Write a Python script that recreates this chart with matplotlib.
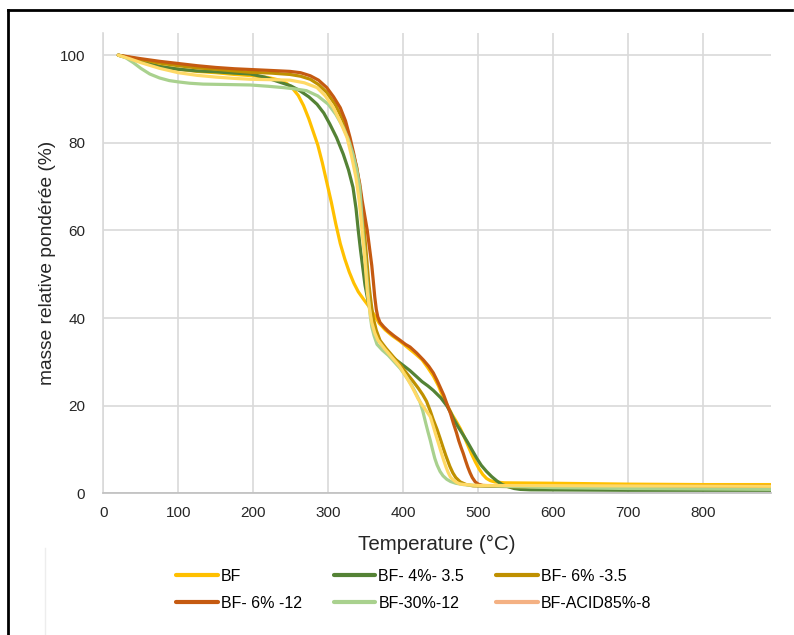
import matplotlib
matplotlib.use("Agg")
import matplotlib.pyplot as plt
from matplotlib.lines import Line2D

plt.rcParams['font.family'] = ['Liberation Sans', 'DejaVu Sans']

# data (temperature in degC, relative mass in %)
bf_t = [20, 35, 50, 75, 100, 125, 150, 175, 200, 220, 235, 245, 253, 260, 267, 274, 280, 286, 292, 298,
        304, 310, 316, 322, 328, 334, 340, 347, 354, 361, 368, 376, 385, 395, 405, 415, 425, 433, 440,
        447, 453, 459, 465, 471, 476, 481, 486, 491, 496, 501, 506, 511, 516, 522, 535, 600, 700, 800, 890]
bf_m = [100, 99.3, 98.5, 97.5, 96.8, 96.3, 96.0, 95.6, 95.3, 94.9, 94.3, 93.5, 92.3, 90.8, 88.5, 85.5, 82.5, 79.5, 75.5, 71.0,
        66.5, 61.5, 57.0, 53.5, 50.5, 48.0, 46.0, 44.3, 42.7, 40.8, 38.8, 37.3, 36.0, 34.8, 33.4, 32.0, 30.5, 28.6, 26.8,
        24.5, 22.0, 20.0, 18.0, 16.3, 14.8, 13.0, 11.0, 9.0, 7.2, 5.6, 4.3, 3.4, 2.9, 2.6, 2.4, 2.3, 2.1, 2.0, 2.0]

g4_t = [20, 35, 50, 75, 100, 125, 150, 175, 196, 215, 236, 250, 262, 274, 285, 294, 302, 311, 320, 327,
        333, 337, 340, 343, 346, 349, 352, 355, 358, 362, 366, 373, 381, 390, 400, 409, 418, 425, 433, 440,
        450, 458, 463, 467, 473, 480, 486, 492, 498, 504, 511, 518, 525, 532, 540, 548, 556, 570, 700, 890]
g4_m = [100, 99.3, 98.5, 97.4, 96.8, 96.4, 96.2, 95.9, 95.7, 95.0, 93.8, 93.0, 91.9, 90.5, 88.8, 86.8, 84.3, 81.2, 77.4, 73.8,
        69.8, 65.0, 60.0, 55.5, 51.5, 47.5, 44.8, 42.5, 40.5, 37.8, 35.7, 33.4, 31.8, 30.5, 29.2, 28.0, 26.6, 25.5, 24.5, 23.5,
        21.8, 20.0, 18.5, 17.0, 15.2, 13.3, 11.6, 9.8, 8.0, 6.4, 5.0, 3.8, 2.8, 2.0, 1.5, 1.1, 0.9, 0.8, 0.7, 0.7]

g6_t = [20, 35, 50, 75, 100, 125, 150, 175, 196, 225, 249, 263, 276, 287, 298, 309, 320, 328, 334, 338,
        341, 344, 346, 348, 350, 352, 354, 356, 358, 360, 364, 369, 377, 385, 395, 405, 413, 420, 426, 431,
        436, 440, 445, 449, 453, 457, 462, 466, 470, 476, 484, 493, 550, 890]
g6_m = [100, 99.5, 99.0, 98.2, 97.6, 97.1, 96.8, 96.4, 96.1, 95.9, 95.6, 95.2, 94.5, 93.3, 91.5, 88.8, 85.0, 80.8, 77.0, 74.4,
        71.0, 67.0, 63.5, 60.0, 56.0, 52.0, 48.0, 45.0, 42.3, 40.0, 37.2, 34.9, 33.1, 31.5, 29.5, 27.3, 25.6, 24.0, 22.5, 21.0,
        18.8, 16.8, 14.6, 12.6, 10.5, 8.5, 6.2, 4.7, 3.6, 2.6, 2.0, 1.7, 1.5, 1.4]

o12_t = [20, 35, 50, 75, 100, 125, 150, 175, 200, 225, 249, 263, 276, 287, 298, 307, 316, 323, 329, 334,
         338, 342, 345, 348, 352, 355, 358, 360, 362, 364, 366, 369, 374, 380, 388, 396, 403, 409, 418, 427,
         434, 440, 445, 449, 454, 458, 463, 467, 471, 474, 477, 480, 483, 486, 489, 492, 496, 500, 506, 520,
         600, 890]
o12_m = [100, 99.6, 99.2, 98.6, 98.1, 97.6, 97.2, 96.9, 96.7, 96.5, 96.3, 96.0, 95.3, 94.3, 92.6, 90.5, 88.0, 85.0, 81.2, 77.5,
         74.0, 70.6, 67.0, 64.0, 60.0, 56.0, 52.0, 48.5, 44.8, 42.0, 40.3, 39.0, 38.0, 37.0, 35.9, 34.9, 34.0, 33.4, 32.0, 30.4,
         29.0, 27.5, 25.8, 24.3, 22.4, 20.5, 18.2, 15.9, 13.8, 12.0, 10.5, 9.1, 7.5, 6.0, 4.7, 3.6, 2.6, 2.1, 1.8, 1.7,
         1.6, 1.6]

g30_t = [20, 30, 40, 50, 62, 75, 88, 100, 115, 133, 165, 196, 220, 240, 256, 271, 286, 300, 310, 320,
         327, 333, 338, 342, 344, 346, 348, 350, 352, 354, 356, 358, 361, 365, 372, 380, 388, 396, 403, 410,
         416, 422, 426, 430, 433, 436, 439, 442, 445, 449, 453, 458, 463, 470, 480, 495, 600, 700, 890]
g30_m = [100, 99.4, 98.3, 97.0, 95.7, 94.8, 94.2, 93.9, 93.6, 93.4, 93.3, 93.2, 92.9, 92.6, 92.3, 91.9, 90.7, 88.8, 86.5, 83.5,
         80.7, 77.4, 73.8, 69.8, 65.0, 60.0, 56.0, 52.0, 48.0, 44.0, 40.5, 38.0, 36.0, 34.0, 32.7, 31.5, 30.0, 28.5, 26.8, 25.0,
         23.1, 21.0, 18.8, 16.0, 14.0, 12.1, 10.0, 8.0, 6.5, 5.0, 4.0, 3.2, 2.7, 2.3, 2.0, 1.8, 1.3, 1.1, 0.9]

acid_t = [20, 35, 50, 75, 100, 125, 150, 175, 196, 225, 249, 268, 285, 296, 307, 316, 325, 331, 337, 341,
          344, 346, 348, 350, 352, 355, 358, 362, 366, 375, 385, 395, 404, 412, 420, 428, 436, 440, 444, 448,
          451, 454, 457, 460, 463, 467, 471, 476, 490, 500, 890]
acid_m = [100, 99.2, 98.3, 97.0, 96.0, 95.4, 95.0, 94.7, 94.5, 94.4, 94.3, 93.7, 92.6, 90.7, 88.0, 84.8, 81.2, 77.0, 72.0, 67.0,
          62.0, 58.0, 55.0, 50.5, 46.0, 42.0, 39.0, 36.6, 35.0, 33.0, 31.0, 29.0, 26.6, 24.2, 21.5, 19.5, 17.5, 15.3, 13.0, 10.8,
          9.1, 7.5, 6.0, 4.7, 3.7, 3.0, 2.5, 2.1, 1.9, 1.8, 1.6]

labels = ['BF', 'BF- 4%- 3.5', 'BF- 6% -3.5', 'BF- 6% -12', 'BF-30%-12', 'BF-ACID85%-8']
colors = ['#FFC000', '#548235', '#BF9000', '#C55A11', '#A9D18E', '#FFD966']
legend_acid = '#F4B183'

fig = plt.figure(figsize=(7.94, 6.35), dpi=100)
ax = fig.add_axes([0.1301, 0.2231, 0.8406, 0.7245])

series = [(bf_t, bf_m), (g4_t, g4_m), (g6_t, g6_m), (o12_t, o12_m), (g30_t, g30_m), (acid_t, acid_m)]
lines = []
for (t, m), lab, c in zip(series, labels, colors):
    ln, = ax.plot(t, m, color=c, lw=2.3, label=lab, solid_capstyle='round', solid_joinstyle='round')
    lines.append(ln)

ax.set_xlim(0, 890)
ax.set_ylim(0, 105)
ax.set_xticks(range(0, 900, 100))
ax.set_yticks(range(0, 101, 20))
ax.grid(True, color='#D9D9D9', lw=1.2)
ax.set_axisbelow(True)
for s in ['top', 'right']:
    ax.spines[s].set_visible(False)
ax.spines['left'].set_color('#D9D9D9')
ax.spines['bottom'].set_color('#BFBFBF')
ax.spines['left'].set_linewidth(1.2)
ax.spines['bottom'].set_linewidth(1.2)
ax.tick_params(axis='both', length=0, labelsize=11, colors='#262626')
ax.tick_params(axis='y', pad=13)
ax.tick_params(axis='x', pad=9)
ax.set_xlabel('Temperature (°C)', fontsize=14.8, color='#262626', labelpad=11)
ax.set_ylabel('masse relative pondérée (%)', fontsize=13.8, color='#262626', labelpad=3)

# legend is filled row by row, as in the reference
order = [0, 3, 1, 4, 2, 5]
leg = fig.legend([lines[i] for i in order], [labels[i] for i in order],
                 loc='center', bbox_to_anchor=(0.521, 0.071), ncol=3, frameon=False,
                 fontsize=11.5, handlelength=2.6, handletextpad=0.2, columnspacing=2.0,
                 labelspacing=0.75)
for h in leg.get_lines():
    h.set_linewidth(3)
leg.get_lines()[5].set_color(legend_acid)

# frame around the picture
fig.add_artist(Line2D([0.0101, 0.9975], [0.985, 0.985], color='black', lw=2))
fig.add_artist(Line2D([0.0101, 0.0101], [0.0, 0.985], color='black', lw=2))
fig.add_artist(Line2D([0.0567, 0.0567], [0.0, 0.137], color='#EDEDED', lw=1))

fig.savefig('out.png', dpi=100, facecolor='white')
